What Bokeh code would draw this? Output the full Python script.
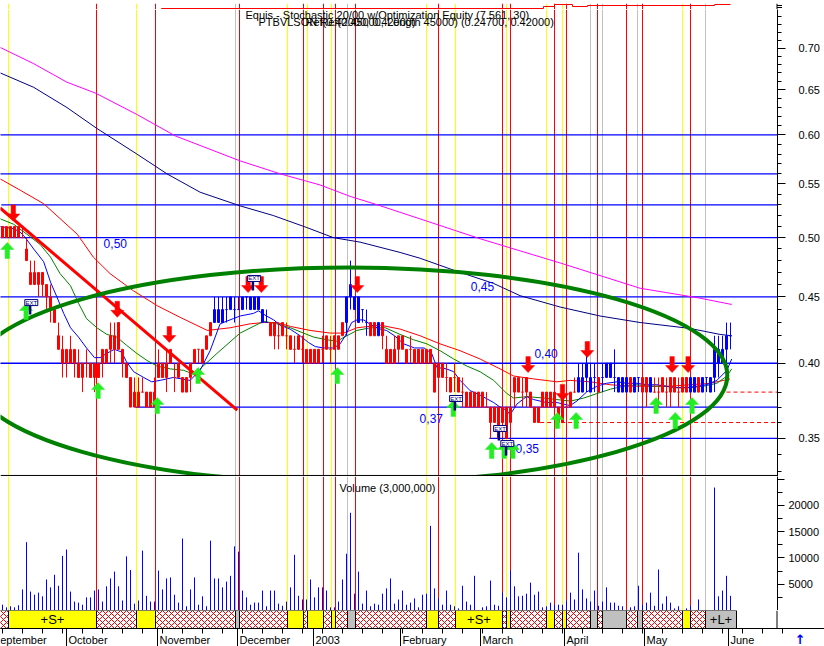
import numpy as np
from bokeh.plotting import figure
from bokeh.models import Range1d, FixedTicker, NumeralTickFormatter, Label, ColumnDataSource
from bokeh.layouts import column
from bokeh.core.properties import value
from bokeh.embed import file_html
from bokeh.resources import INLINE

# ------------------------------------------------------------------ data
# daily bars (prices in euro cents), bar index 0 .. 182
opens = [50, 50, 50, 51, 50, 50, 49, 46, 46, 46,
         47, 46, 45, 44, 42, 40, 40, 40, 40, 40,
         39, 40, 40, 39, 40, 40, 40, 41, 42, 43,
         41, 40, 39, 37, 37, 38, 38, 38, 37, 40,
         40, 40, 40, 39, 39, 39, 39, 39, 40, 41,
         40, 41, 42, 43, 43, 44, 44, 44, 44, 44,
         45, 45, 45, 44, 45, 44, 43, 43, 43, 42,
         42, 42, 42, 41, 42, 41, 40, 41, 41, 41,
         41, 41, 41, 42, 41, 42, 43, 45, 44, 45,
         44, 43, 43, 43, 42, 43, 41, 41, 41, 41,
         41, 40, 41, 40, 41, 41, 40, 41, 40, 39,
         39, 39, 38, 39, 38, 38, 38, 38, 37, 38,
         37, 37, 36, 36, 37, 37, 37, 36, 38, 38,
         38, 38, 38, 36, 36, 38, 38, 38, 38, 36,
         38, 37, 37, 38, 38, 38, 40, 38, 39, 39,
         39, 39, 40, 39, 38, 38, 38, 39, 38, 39,
         39, 39, 38, 38, 38, 38, 38, 39, 38, 38,
         38, 39, 38, 39, 39, 38, 39, 38, 39, 41,
         41, 41, 42]
highs = [51, 51, 51, 51, 51, 51, 50, 48, 48, 47,
         47, 46, 46, 44, 43, 42, 41, 42, 41, 41,
         40, 41, 40, 40, 40, 41, 41, 43, 43, 43,
         41, 40, 39, 39, 39, 39, 38, 38, 39, 41,
         40, 41, 41, 40, 40, 39, 39, 40, 41, 41,
         41, 42, 43, 45, 45, 45, 45, 45, 45, 45,
         45, 45, 45, 45, 45, 44, 44, 43, 43, 43,
         43, 43, 42, 42, 42, 42, 41, 41, 41, 41,
         42, 42, 42, 42, 42, 43, 45, 48, 45, 45,
         44, 44, 43, 43, 43, 43, 42, 41, 42, 42,
         42, 41, 42, 41, 41, 41, 41, 41, 40, 40,
         40, 40, 39, 40, 39, 39, 38, 38, 38, 38,
         38, 38, 37, 37, 37, 37, 37, 37, 39, 39,
         39, 39, 38, 37, 37, 38, 38, 38, 38, 37,
         38, 38, 38, 39, 40, 40, 41, 40, 40, 39,
         40, 40, 40, 41, 39, 39, 39, 39, 39, 39,
         39, 39, 39, 39, 39, 39, 39, 39, 39, 39,
         39, 39, 39, 39, 39, 39, 39, 39, 42, 42,
         42, 43, 43]
lows = [50, 50, 50, 50, 50, 50, 48, 46, 46, 45,
        45, 44, 43, 43, 41, 39, 39, 40, 39, 39,
        38, 39, 39, 38, 39, 39, 40, 40, 40, 41,
        39, 39, 37, 37, 37, 38, 37, 37, 37, 39,
        39, 38, 40, 38, 39, 38, 38, 38, 40, 40,
        40, 41, 42, 43, 43, 43, 43, 44, 43, 44,
        44, 44, 44, 44, 44, 43, 43, 42, 41, 41,
        42, 41, 41, 40, 41, 40, 40, 40, 40, 40,
        40, 41, 40, 41, 41, 42, 42, 44, 44, 43,
        43, 42, 42, 42, 42, 41, 40, 40, 40, 40,
        41, 40, 40, 40, 40, 40, 40, 40, 38, 38,
        39, 38, 38, 38, 38, 37, 37, 37, 37, 37,
        37, 37, 35, 36, 35, 36, 35, 36, 37, 38,
        37, 37, 37, 36, 36, 37, 37, 37, 37, 36,
        36, 36, 37, 38, 38, 38, 38, 38, 38, 38,
        38, 39, 39, 38, 38, 38, 38, 38, 38, 38,
        38, 37, 38, 38, 37, 38, 37, 37, 38, 37,
        38, 38, 38, 38, 38, 38, 38, 38, 38, 39,
        40, 40, 41]
closes = [51, 51, 51, 50, 51, 50, 48, 47, 47, 47,
          46, 45, 44, 43, 41, 41, 41, 41, 41, 39,
          40, 40, 39, 40, 39, 41, 41, 42, 41, 41,
          40, 39, 37, 38, 38, 38, 37, 37, 38, 39,
          39, 39, 41, 39, 40, 38, 38, 40, 41, 41,
          41, 42, 43, 44, 44, 43, 44, 45, 44, 44,
          44, 45, 44, 45, 44, 43, 43, 42, 42, 42,
          43, 42, 41, 41, 41, 41, 41, 40, 40, 40,
          41, 42, 41, 41, 42, 43, 45, 46, 45, 43,
          44, 43, 42, 42, 43, 42, 40, 40, 40, 42,
          42, 41, 41, 41, 40, 40, 41, 40, 38, 40,
          40, 39, 39, 39, 39, 38, 37, 37, 38, 37,
          38, 37, 37, 37, 35, 36, 35, 37, 39, 39,
          38, 39, 37, 37, 37, 37, 37, 37, 37, 37,
          36, 37, 38, 38, 39, 39, 39, 39, 39, 38,
          39, 40, 39, 39, 39, 39, 39, 38, 39, 39,
          38, 38, 39, 38, 38, 39, 38, 38, 39, 38,
          39, 38, 39, 38, 38, 39, 39, 39, 41, 40,
          40, 42, 42]
bar_colors = ("rrrrrrrrrr" "rrrrrrrrrr" "rrrrrrrrrr" "rrrrrrrrrr" "rrrrrrrrrr"
              "rrrbbbbbbb" "bbbbbbbrrr" "rrrrrrrrrr" "rrrrrrbbbb" "bbrrbrrrrr"
              "rrrrrrrrrr" "rrrrrrrrrr" "rrrrrrrrrr" "rrrrrrrrrr" "rrrrbbbbbr"
              "bbbbbbbrbb" "rrbrrrrrrr" "rrbbrbbbbb" "bbb")
volume = [1100, 600, 800, 600, 1000, 4000, 13000, 3600, 3000, 3400,
          2700, 5900, 4400, 6800, 4700, 10400, 11600, 3600, 1700, 1500,
          1100, 2500, 2500, 3800, 4000, 1700, 4600, 6100, 7400, 4600,
          1900, 10300, 7700, 1300, 1900, 11400, 2800, 1700, 1700, 7600,
          4000, 6100, 6300, 3000, 1500, 13700, 800, 4000, 6300, 1100,
          2700, 800, 13300, 6100, 6100, 4400, 5500, 6600, 12200, 11200,
          3800, 2500, 1100, 1500, 1500, 3800, 800, 3800, 3800, 1300,
          900, 1700, 4400, 10600, 2800, 2100, 2100, 5900, 2500, 4400,
          4400, 3800, 600, 600, 1700, 5900, 10800, 18600, 3200, 7400,
          1300, 3800, 800, 1300, 1100, 3200, 4200, 6100, 1300, 2100,
          3800, 1100, 1500, 2300, 600, 3000, 3200, 16100, 4200, 2300,
          1100, 3800, 1100, 800, 400, 4700, 1700, 1100, 6600, 0,
          600, 800, 5700, 1100, 900, 3400, 2500, 7600, 4600, 2700,
          2800, 3200, 5300, 3000, 3600, 600, 800, 1500, 1100, 1100,
          1100, 1900, 3400, 2100, 11000, 4000, 2300, 1700, 3800, 900,
          1700, 4400, 1500, 1500, 900, 800, 0, 600, 800, 4700,
          1100, 1500, 3400, 900, 7800, 1300, 2700, 1500, 400, 800,
          0, 400, 900, 0, 2100, 0, 0, 0, 23400, 2700,
          3800, 6600, 2800]

# moving averages (bar position, price)
ma_blue_x = [-0.6, 2.8, 4.4, 5.7, 7.8, 10.3, 12, 13.6, 15.3, 17, 19, 21, 23, 24.4, 26, 28, 29.8, 31, 32.8,
             35.3, 37.3, 39.4, 42.7, 44.8, 46.9, 49.4, 51.9, 54.4, 57.7, 59.4, 62.7, 64, 66, 67.8, 69.4,
             71.9, 74.4, 76.5, 78.2, 80.3, 82.8, 84.4, 85.7, 87.3, 88.6, 90.3, 92.3, 94.4, 96, 98, 100.3,
             103, 105.4, 107.3, 108.6, 111, 112.8, 114.4, 116.9, 119.4, 122.8, 124.4, 126, 126.9, 128.6,
             131, 132.8, 136, 138.6, 141.9, 143.6, 146, 148.6, 151, 153.6, 156, 158.6, 161, 163.6, 166,
             168.6, 171, 173.6, 176, 178.6, 181.1, 182.3]
ma_blue_y = [0.51, 0.508, 0.505, 0.50, 0.49, 0.479, 0.462, 0.45, 0.437, 0.426, 0.419, 0.411, 0.404, 0.404,
             0.407, 0.41, 0.408, 0.401, 0.394, 0.39, 0.387, 0.388, 0.39, 0.389, 0.388, 0.395, 0.409, 0.429,
             0.433, 0.435, 0.437, 0.439, 0.435, 0.432, 0.428, 0.425, 0.42, 0.415, 0.412, 0.411, 0.411,
             0.414, 0.42, 0.43, 0.432, 0.432, 0.428, 0.425, 0.424, 0.42, 0.414, 0.411, 0.411, 0.407,
             0.397, 0.396, 0.394, 0.388, 0.381, 0.378, 0.373, 0.37, 0.368, 0.365, 0.372, 0.377, 0.375,
             0.373, 0.373, 0.371, 0.374, 0.38, 0.384, 0.386, 0.387, 0.386, 0.386, 0.385, 0.385, 0.384,
             0.383, 0.383, 0.384, 0.385, 0.388, 0.395, 0.403]
ma_green_x = [-0.6, 2.8, 6.1, 9.4, 12, 14.4, 17, 19, 21, 23.6, 26.1, 28.6, 31, 33.6, 36.1, 38.6, 42, 45.3,
              48, 49.4, 53.6, 59.4, 65.3, 68.6, 72, 74.4, 77.8, 81.1, 83.6, 86.1, 88.6, 92, 95.7, 99.4,
              102.8, 106.1, 109.4, 112.8, 116.1, 119.4, 122.8, 126.1, 127.8, 131.1, 135.3, 138.6, 142,
              145.3, 148.6, 152, 155.3, 158.6, 162, 165.3, 168.6, 172, 175.3, 178.6, 181.1, 182.3]
ma_green_y = [0.517, 0.512, 0.503, 0.494, 0.483, 0.469, 0.459, 0.445, 0.433, 0.426, 0.421, 0.419, 0.413,
              0.407, 0.402, 0.398, 0.396, 0.395, 0.392, 0.396, 0.407, 0.422, 0.431, 0.429, 0.426, 0.423,
              0.419, 0.417, 0.416, 0.42, 0.424, 0.426, 0.426, 0.421, 0.417, 0.414, 0.409, 0.403, 0.398,
              0.394, 0.388, 0.379, 0.376, 0.377, 0.376, 0.375, 0.374, 0.376, 0.379, 0.382, 0.384, 0.385,
              0.384, 0.384, 0.383, 0.383, 0.384, 0.386, 0.391, 0.396]
ma_red_x = [-0.6, 4.4, 10.3, 18.7, 22.7, 26.9, 32.7, 38.7, 44.4, 51.2, 56.9, 61.9, 65.3, 68.6, 72, 76.9,
            81.9, 85.3, 88.6, 94.4, 99.4, 104.4, 109.4, 114.4, 119.4, 124.4, 127.8, 132.8, 138.6, 141.9,
            146.9, 151.9, 156.9, 161.9, 166.9, 171.9, 176.9, 181.9]
ma_red_y = [0.555, 0.544, 0.531, 0.503, 0.483, 0.469, 0.455, 0.443, 0.434, 0.424, 0.426, 0.429, 0.43, 0.43,
            0.427, 0.424, 0.422, 0.422, 0.426, 0.428, 0.425, 0.42, 0.414, 0.409, 0.403, 0.396, 0.391,
            0.389, 0.387, 0.388, 0.387, 0.385, 0.384, 0.384, 0.384, 0.385, 0.386, 0.389]
ma_navy_x = [-0.6, 7.8, 16.1, 23.6, 33.6, 41.1, 49.4, 59.4, 67.7, 76.1, 82.7, 89.4, 99.4, 104.4, 112.7,
             122.7, 129.4, 139.4, 149.4, 159.4, 171.9, 179.4, 182.3]
ma_navy_y = [0.670, 0.653, 0.630, 0.607, 0.580, 0.560, 0.542, 0.529, 0.520, 0.509, 0.500, 0.496, 0.487,
             0.482, 0.472, 0.461, 0.451, 0.442, 0.435, 0.430, 0.4255, 0.421, 0.420]
ma_mag_x = [-0.6, 7.8, 16.1, 23.4, 33.7, 43.2, 59.4, 69.4, 79.4, 86.9, 93.7, 99.4, 119.4, 139.4, 159.4,
            174.4, 182.3]
ma_mag_y = [0.701, 0.681, 0.659, 0.646, 0.622, 0.599, 0.573, 0.560, 0.549, 0.538, 0.530, 0.523, 0.499,
            0.478, 0.457, 0.449, 0.444]

# drawn trend line, ellipse, support / resistance levels
trend_x = [-0.6, 58.7]
trend_y = [0.527, 0.368]
ell_x, ell_y, ell_w = 86.7, 0.3914, 189.0
hline_levels = [0.60, 0.56, 0.53, 0.50, 0.45, 0.40, 0.37, 0.35]
hline_from = [-1, -1, -0.3, -1, -1, -1, 33.2, 121.7]
dash_levels = [0.38, 0.36]
dash_from = [181.0, 134.4]
lvl_text = ["0,50", "0,45", "0,40", "0,37", "0,35"]
lvl_x = [28.2, 120.0, 135.9, 107.2, 131.2]
lvl_y = [0.4952, 0.4584, 0.4069, 0.3626, 0.3439]

# system signals (bar positions)
short_on = [1.5, 33.5, 71.25, 76.25, 82.25, 106.0, 113.25, 126.0, 136.0, 140.0, 170.0]
short_off = [23.5, 38.25, 75.25, 80.25, 83.25, 109.0, 125.0, 127.0, 138.0, 141.0, 172.0]
long_on = [58.25, 86.25, 147.0, 150.0, 158.75, 175.75]
long_off = [59.25, 88.25, 148.75, 156.0, 160.0]
strip_start, strip_end = -0.75, 183.5
sell_x = [2.7, 28.7, 41.7, 61.4, 64.7, 88.7, 131.4, 140.0, 146.2, 167.4, 171.4]
sell_y = [0.515, 0.434, 0.415, 0.4535, 0.4535, 0.4535, 0.3934, 0.3744, 0.4041, 0.3934, 0.3934]
buy_x = [1.2, 5.9, 23.9, 38.7, 48.9, 83.7, 112.7, 122.3, 125.4, 127.6, 138.7, 143.4, 163.4, 168.2, 172.4]
buy_y = [0.4957, 0.4448, 0.3865, 0.3764, 0.397, 0.397, 0.3744, 0.3475, 0.3475, 0.3475, 0.3665, 0.3665,
         0.3764, 0.3665, 0.3764]
exit_x = [7.2, 62.9, 113.4, 124.4, 126.2]
exit_y = [0.4455, 0.465, 0.3757, 0.3562, 0.3468]

# optimisation equity (top strip)
eq_x = [-0.5, 28.75, 39.75, 135.25, 138.0, 142.5, 146.25, 178.0, 182.0]
eq_v = [2, 3, 4, 6, 8, 6, 7, 8, 8]

# time axis
month_pos = [16.0, 38.75, 58.75, 77.75, 99.5, 119.5, 140.5, 160.5, 181.5]
month_names = ["October", "November", "December", "2003", "February", "March", "April", "May", "June"]
sept_pos = -2.9

# ------------------------------------------------------------------ layout
FONT = "Liberation Sans"
FW_FULL, FW_PLOT, RB = 824, 777, 47
H_EQ, H_PR, H_VO, H_ST = 9, 467, 134, 36
PXB = 4.0                      # pixels per bar
X0 = -0.5                      # bar centres on whole pixels
X1 = X0 + FW_PLOT / PXB
XF = X0 + FW_FULL / PXB
PMIN, PMAX = 0.3271, 0.7498
VMAX = 25500
AXX = X1 - 0.125

RED, YEL, GRY, BLU = "#ff0000", "#ffff00", "#c0c0c0", "#0000ff"


def make_fig(fw, fh, xr, yr, ytype="linear", yloc=None, rb=0):
    p = figure(frame_width=fw, frame_height=fh, x_range=xr, y_range=yr, y_axis_type=ytype,
               y_axis_location=yloc, x_axis_location=None, toolbar_location=None,
               output_backend="svg", min_border_left=0, min_border_right=rb,
               min_border_top=0, min_border_bottom=0)
    p.grid.visible = False
    p.outline_line_color = None
    p.background_fill_color = "white"
    p.border_fill_color = "white"
    return p


def style_axis(ax, tick_out, minor_out, standoff):
    ax.major_tick_out = tick_out
    ax.major_tick_in = 0
    ax.minor_tick_out = minor_out
    ax.minor_tick_in = 0
    ax.major_label_standoff = standoff
    ax.major_label_text_font = FONT
    ax.major_label_text_font_size = "11px"
    ax.major_label_text_color = "black"
    ax.axis_line_color = "black"
    ax.major_tick_line_color = "black"
    ax.minor_tick_line_color = "black"


vl_x = short_on + short_off + long_on + long_off
vl_c = [YEL] * len(short_on) + [RED] * len(short_off) + [GRY] * len(long_on) + [RED] * len(long_off)

# ---------------- equity strip
eq = make_fig(FW_FULL, H_EQ, Range1d(X0, XF), Range1d(0, 9))
eq.segment(x0=vl_x, y0=0, x1=vl_x, y1=9, line_color=vl_c, line_width=1)
eq.segment(x0=eq_x[:-1], y0=eq_v[:-1], x1=eq_x[1:], y1=eq_v[:-1], line_color=RED, line_width=1.2)
eq.segment(x0=eq_x[1:], y0=eq_v[:-1], x1=eq_x[1:], y1=eq_v[1:], line_color=RED, line_width=1)
eq.segment(x0=[AXX], y0=[0], x1=[AXX], y1=[9], line_color="black", line_width=1)
eq.segment(x0=[AXX, AXX, AXX], y0=[3, 5, 7], x1=[AXX + 1.25] * 3, y1=[3, 5, 7],
           line_color="black", line_width=1)
eq.hspan(y=[1], line_color="black", line_width=1)

# ---------------- price panel
shared_x = Range1d(X0, X1)
pp = make_fig(FW_PLOT, H_PR, shared_x, Range1d(PMIN, PMAX), ytype="log", yloc="right", rb=RB)
yax = pp.yaxis[0]
yax.ticker = FixedTicker(ticks=[0.35, 0.40, 0.45, 0.50, 0.55, 0.60, 0.65, 0.70],
                         minor_ticks=[round(0.33 + 0.01 * k, 2) for k in range(43)])
yax.formatter = NumeralTickFormatter(format="0.00")
style_axis(yax, 8, 4, 13)

pp.segment(x0=vl_x, y0=PMIN, x1=vl_x, y1=PMAX, line_color=vl_c, line_width=1)
pp.segment(x0=hline_from, y0=hline_levels, x1=[X1 + 1] * len(hline_levels), y1=hline_levels,
           line_color=BLU, line_width=1.3)
pp.segment(x0=dash_from, y0=dash_levels, x1=[X1 + 1] * len(dash_levels), y1=dash_levels,
           line_color=RED, line_width=1, line_dash="4 3")
pp.line(ma_mag_x, ma_mag_y, line_color="#ff00ff", line_width=1)
pp.line(ma_navy_x, ma_navy_y, line_color="#000080", line_width=1)
pp.line(ma_red_x, ma_red_y, line_color=RED, line_width=1)
pp.line(ma_green_x, ma_green_y, line_color="#008000", line_width=1)
pp.line(ma_blue_x, ma_blue_y, line_color=BLU, line_width=1)

idx = list(range(len(opens)))
cmap = {"r": RED, "b": BLU}
src = ColumnDataSource(dict(
    x=idx,
    h=[v / 100 for v in highs],
    l=[v / 100 for v in lows],
    top=[max(o, c) / 100 for o, c in zip(opens, closes)],
    bot=[min(o, c) / 100 for o, c in zip(opens, closes)],
    col=[cmap[c] for c in bar_colors],
    fa=[1.0 if c < o else 0.0 for o, c in zip(opens, closes)],
))
pp.segment(x0="x", y0="l", x1="x", y1="h", line_color="col", line_width=1, source=src)
pp.vbar(x="x", width=0.5, top="top", bottom="bot", fill_color="col", fill_alpha="fa",
        line_color="col", line_width=1, source=src)

pp.line(trend_x, trend_y, line_color=RED, line_width=3)
pp.ellipse(x=[ell_x], y=[ell_y], width=[ell_w], height=[216], width_units="data",
           height_units="screen", fill_color=None, line_color="#008000", line_width=4)

pp.text(x=lvl_x, y=lvl_y, text=lvl_text, text_font=value(FONT), text_font_size="12px",
        text_color=BLU, text_align="center", text_baseline="middle")

# arrows (shape built in screen pixels around the data tip)
K = H_PR / np.log(PMAX / PMIN)
BPX = 1.0 / PXB


def arrows(xs, tips, direction, color):
    s = 1 if direction == "down" else -1
    hx, hy, ql, qr, qb, qt = [], [], [], [], [], []
    for x, t in zip(xs, tips):
        base = t * np.exp(s * 7 / K)
        end = t * np.exp(s * 16 / K)
        hx.append([x - 6.5 * BPX, x + 6.5 * BPX, x])
        hy.append([base, base, t])
        ql.append(x - 2.2 * BPX)
        qr.append(x + 2.2 * BPX)
        qb.append(min(base, end))
        qt.append(max(base, end))
    pp.quad(left=ql, right=qr, bottom=qb, top=qt, fill_color=color, line_color=color, line_width=0.5)
    pp.patches(xs=hx, ys=hy, fill_color=color, line_color=color, line_width=0.5)


arrows(sell_x, sell_y, "down", RED)
arrows(buy_x, buy_y, "up", "#22ee22")

stem_top = [y * np.exp(-3 / K) for y in exit_y]
stem_bot = [y * np.exp(-12 / K) for y in exit_y]
pp.segment(x0=[x - 1.2 * BPX for x in exit_x], y0=stem_top, x1=[x - 1.2 * BPX for x in exit_x],
           y1=stem_bot, line_color="#000080", line_width=2.5)
pp.rect(x=exit_x, y=exit_y, width=13, height=6, width_units="screen", height_units="screen",
        fill_color="white", line_color="#000080", line_width=1)
pp.text(x=exit_x, y=exit_y, text=["EXT"] * len(exit_x), text_font=value(FONT), text_font_size="6px",
        text_color="#000080", text_align="center", text_baseline="middle")

pp.segment(x0=[X0], y0=[0.3277], x1=[X1], y1=[0.3277], line_color="black", line_width=1)

pp.add_layout(Label(x=245, y=H_PR + 1, x_units="screen", y_units="screen", text_baseline="top",
                    text="Equis - Stochastic 20/00  w/Optimization Equity (7.561,.30)",
                    text_font=FONT, text_font_size="11px", text_color="black"))
pp.add_layout(Label(x=258, y=H_PR - 6, x_units="screen", y_units="screen", text_baseline="top",
                    text="PTBVLSON Ref(0.45000, Length 45000) (0.24700, 0.42000)",
                    text_font=FONT, text_font_size="11px", text_color="black"))
pp.add_layout(Label(x=305, y=H_PR - 6, x_units="screen", y_units="screen", text_baseline="top",
                    text="Ref(0.42000, 0.42000)",
                    text_font=FONT, text_font_size="11px", text_color="black"))

# ---------------- volume panel
vp = make_fig(FW_PLOT, H_VO, shared_x, Range1d(0, VMAX), yloc="right", rb=RB)
vax = vp.yaxis[0]
vax.ticker = FixedTicker(ticks=[5000, 10000, 15000, 20000, 25000],
                         minor_ticks=[2500, 7500, 12500, 17500, 22500])
vax.major_label_overrides = {25000: ""}
style_axis(vax, 7, 5, 4)
vp.segment(x0=vl_x, y0=0, x1=vl_x, y1=VMAX, line_color=vl_c, line_width=1)
vp.segment(x0=idx, y0=[0] * len(idx), x1=idx, y1=volume, line_color=BLU, line_width=1)
vp.add_layout(Label(x=339, y=H_VO - 5, x_units="screen", y_units="screen", text_baseline="top",
                    text="Volume (3,000,000)", text_font=FONT, text_font_size="11px", text_color="black"))

# ---------------- signal strip + time axis (frame covers strip and labels)
SB, ST = 18.0, 36.0   # strip bottom / top inside the frame (pixel-like units)
sp = make_fig(FW_FULL, H_ST, Range1d(X0, XF), Range1d(0, H_ST))

segs = sorted([(a, b, YEL, "+S+") for a, b in zip(short_on, short_off)] +
              [(a, b, GRY, "+L+") for a, b in zip(long_on, long_off + [strip_end])])
gaps = []
cur = strip_start
for a, b, _, _ in segs:
    if a > cur:
        gaps.append((cur, a))
    cur = max(cur, b)
if cur < strip_end:
    gaps.append((cur, strip_end))

# red cross-hatch inside the gaps (pattern drawn in pixel space)
hx0, hy0, hx1, hy1 = [], [], [], []
D = 6.0
for a, b in gaps:
    ua, ub = (a - X0) * PXB, (b - X0) * PXB
    c = np.floor((SB - ub) / D) * D
    while c <= ST - ua:
        u0, u1 = max(ua, SB - c), min(ub, ST - c)
        if u1 > u0:
            hx0.append(u0); hy0.append(u0 + c); hx1.append(u1); hy1.append(u1 + c)
        c += D
    c = np.floor((SB + ua) / D) * D
    while c <= ST + ub:
        u0, u1 = max(ua, c - ST), min(ub, c - SB)
        if u1 > u0:
            hx0.append(u0); hy0.append(c - u0); hx1.append(u1); hy1.append(c - u1)
        c += D

sp.quad(left=[g[0] for g in gaps], right=[g[1] for g in gaps], bottom=SB, top=ST,
        fill_color="white", line_color=None)
sp.segment(x0=[u / PXB + X0 for u in hx0], y0=hy0, x1=[u / PXB + X0 for u in hx1], y1=hy1,
           line_color=RED, line_width=1)
sp.quad(left=[g[0] for g in gaps], right=[g[1] for g in gaps], bottom=SB, top=ST,
        fill_color=None, line_color="black", line_width=1)
sp.quad(left=[s[0] for s in segs], right=[s[1] for s in segs], bottom=SB, top=ST,
        fill_color=[s[2] for s in segs], line_color="black", line_width=1)
big = [s for s in segs if s[1] - s[0] >= 7]
sp.text(x=[(s[0] + s[1]) / 2 for s in big], y=[(SB + ST) / 2] * len(big), text=[s[3] for s in big],
        text_font=value(FONT), text_font_size="13px", text_align="center", text_baseline="middle",
        text_color="black")
sp.segment(x0=[AXX], y0=[SB], x1=[AXX], y1=[H_ST], line_color="black", line_width=1)
sp.segment(x0=[X0], y0=[SB], x1=[XF], y1=[SB], line_color="black", line_width=1)
weeks = [5 * k for k in range(40)]
sp.segment(x0=weeks, y0=[SB] * len(weeks), x1=weeks, y1=[SB - 5] * len(weeks),
           line_color="black", line_width=1)
sp.segment(x0=month_pos, y0=[SB] * len(month_pos), x1=month_pos, y1=[0] * len(month_pos),
           line_color="black", line_width=1)
sp.text(x=month_pos + [sept_pos], y=[6.5] * (len(month_pos) + 1), text=month_names + ["September"],
        x_offset=2, text_font=value(FONT), text_font_size="11px", text_align="left",
        text_baseline="middle", text_color="black")
sp.text(x=[199.4], y=[7], text=["\u2191"], text_font=value("DejaVu Sans"), text_font_size="13px",
        text_font_style="bold", text_align="center", text_baseline="middle", text_color=BLU)

layout = column(eq, pp, vp, sp, spacing=0)
open("out.html", "w").write(file_html(layout, INLINE))
